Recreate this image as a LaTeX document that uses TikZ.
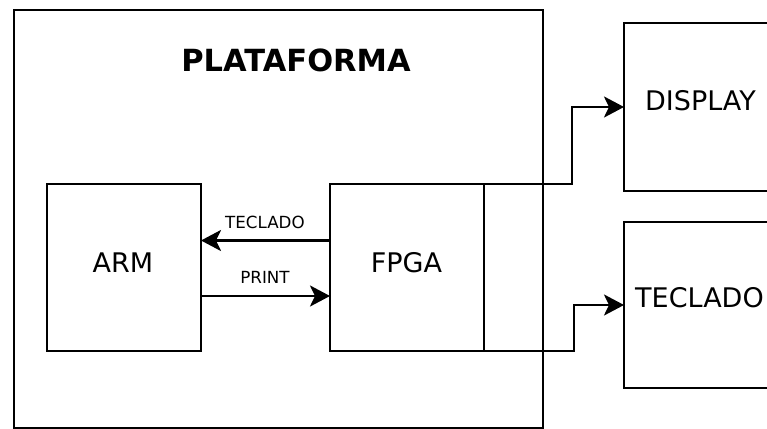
\documentclass[tikz,border=0pt]{standalone}
\usepackage{fontspec}
\setmainfont{DejaVu Sans}
\usetikzlibrary{arrows.meta}
\begin{document}
\begin{tikzpicture}[x=1pt,y=-1pt,line width=2.6pt,
  box/.style={draw,line width=2.6pt,inner sep=0pt,outer sep=0pt,anchor=north west},
  big/.style={font=\fontsize{27}{32}\selectfont,inner sep=0pt},
  small/.style={font=\fontsize{16.7}{20}\selectfont,inner sep=0pt},
  title/.style={font=\fontsize{30.5}{36}\selectfont\bfseries,inner sep=0pt},
  arr/.style={-{Stealth[length=20pt,width=21pt,inset=5pt]},line width=2.6pt}]
\useasboundingbox (0,0) rectangle (767,428);
% boxes
\node[box,minimum width=529pt,minimum height=418pt] (plat) at (14,10) {};
\node[box,minimum width=154pt,minimum height=167pt] (arm) at (47,184) {};
\node[box,minimum width=154pt,minimum height=167pt] (fpga) at (330,184) {};
\node[box,minimum width=154pt,minimum height=168pt] (disp) at (624,23) {};
\node[box,minimum width=154pt,minimum height=166pt] (tecl) at (624,222) {};
% texts
\node[title] (tplat) at (296,60) {PLATAFORMA};
\node[big] (tarm) at (123,262.5) {ARM};
\node[big] (tfpga) at (406.5,262.5) {FPGA};
\node[big] (tdisp) at (700.5,101) {DISPLAY};
\node[big] (ttecl) at (699.5,298) {TECLADO};
% internal arrows
\draw[arr] (fpga.west |- 0,240.5) -- (arm.east |- 0,240.5);
\node[small] (lteclado) at (265,222.5) {TECLADO};
\draw[arr] (arm.east |- 0,296) -- (fpga.west |- 0,296);
\node[small] (lprint) at (265,277.5) {PRINT};
% external connectors
\draw[arr] (fpga.north east) -- ++(88,0) |- (disp.west);
\draw[arr] (fpga.south east) -- ++(90,0) |- (tecl.west);
\end{tikzpicture}
\end{document}
